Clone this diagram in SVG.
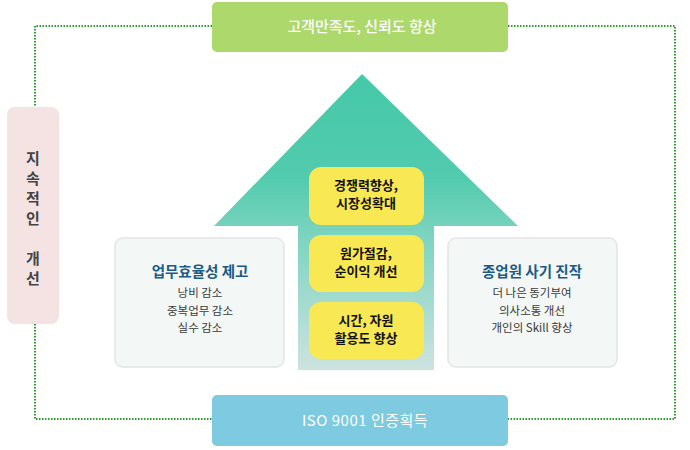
<svg xmlns="http://www.w3.org/2000/svg" width="690" height="450" viewBox="0 0 690 450">
<defs>
<linearGradient id="arrowGrad" gradientUnits="userSpaceOnUse" x1="0" y1="74" x2="0" y2="370">
<stop offset="0" stop-color="#45c9a8"/>
<stop offset="0.35" stop-color="#52cbae"/>
<stop offset="0.55" stop-color="#7dd4c0"/>
<stop offset="1" stop-color="#cde3df"/>
</linearGradient>
<style>
text{font-family:"Noto Sans CJK KR","Noto Sans",sans-serif;text-anchor:middle}
.dot{fill:none;stroke:#2a9e2a;stroke-width:2;stroke-dasharray:1.5 1.5}
.yel{fill:#f8e853}
.ytx{font-size:13px;font-weight:700;fill:#111}
.gbox{fill:#f3f7f5;stroke:#e8eaea;stroke-width:2}
.gt{font-size:14.5px;font-weight:700;fill:#1b5a86}
.gi{font-size:11.5px;fill:#3a3a3a}
.side{font-size:15px;font-weight:700;fill:#444}
</style>
</defs>
<g id="connectors">
<path class="dot" d="M212 26 H35 V107"/>
<path class="dot" d="M35 324 V419 H212"/>
<path class="dot" d="M508 26 H675 V419 H508"/>
</g>
<g id="arrow">
<path d="M362 74 L518 226 L434 226 L434 370 L298 370 L298 226 L214 226 Z" fill="url(#arrowGrad)"/>
</g>
<g id="top">
<rect x="212" y="2" width="296" height="50" rx="5" fill="#acd86c"/>
<text x="362" y="32" font-size="15" font-weight="500" fill="#fff">고객만족도, 신뢰도 향상</text>
</g>
<g id="bottom">
<rect x="212" y="395" width="296" height="51" rx="5" fill="#7ecae0"/>
<text x="365" y="426" font-size="15" fill="#fff" letter-spacing="0.5">ISO 9001 인증획득</text>
</g>
<g id="side">
<rect x="7" y="107" width="52" height="217" rx="8" fill="#f5e3e3"/>
<text class="side" x="33" y="164">지</text>
<text class="side" x="33" y="184">속</text>
<text class="side" x="33" y="204">적</text>
<text class="side" x="33" y="224">인</text>
<text class="side" x="33" y="264">개</text>
<text class="side" x="33" y="284">선</text>
</g>
<g id="box1">
<rect class="yel" x="309" y="167" width="115" height="58" rx="12"/>
<text class="ytx" x="366" y="190">경쟁력향상,</text>
<text class="ytx" x="366" y="208">시장성확대</text>
</g>
<g id="box2">
<rect class="yel" x="309" y="235" width="115" height="57" rx="12"/>
<text class="ytx" x="366" y="258">원가절감,</text>
<text class="ytx" x="366" y="276">순이익 개선</text>
</g>
<g id="box3">
<rect class="yel" x="309" y="302" width="115" height="57" rx="12"/>
<text class="ytx" x="366" y="325">시간, 자원</text>
<text class="ytx" x="366" y="343">활용도 향상</text>
</g>
<g id="left">
<rect class="gbox" x="115" y="238" width="169" height="129" rx="8"/>
<text class="gt" x="200" y="277">업무효율성 제고</text>
<text class="gi" x="200" y="297">낭비 감소</text>
<text class="gi" x="200" y="315">중복업무 감소</text>
<text class="gi" x="200" y="332">실수 감소</text>
</g>
<g id="right">
<rect class="gbox" x="448" y="238" width="169" height="129" rx="8"/>
<text class="gt" x="532" y="277">종업원 사기 진작</text>
<text class="gi" x="532" y="297">더 나은 동기부여</text>
<text class="gi" x="532" y="315">의사소통 개선</text>
<text class="gi" x="532" y="332">개인의 Skill 향상</text>
</g>
</svg>
